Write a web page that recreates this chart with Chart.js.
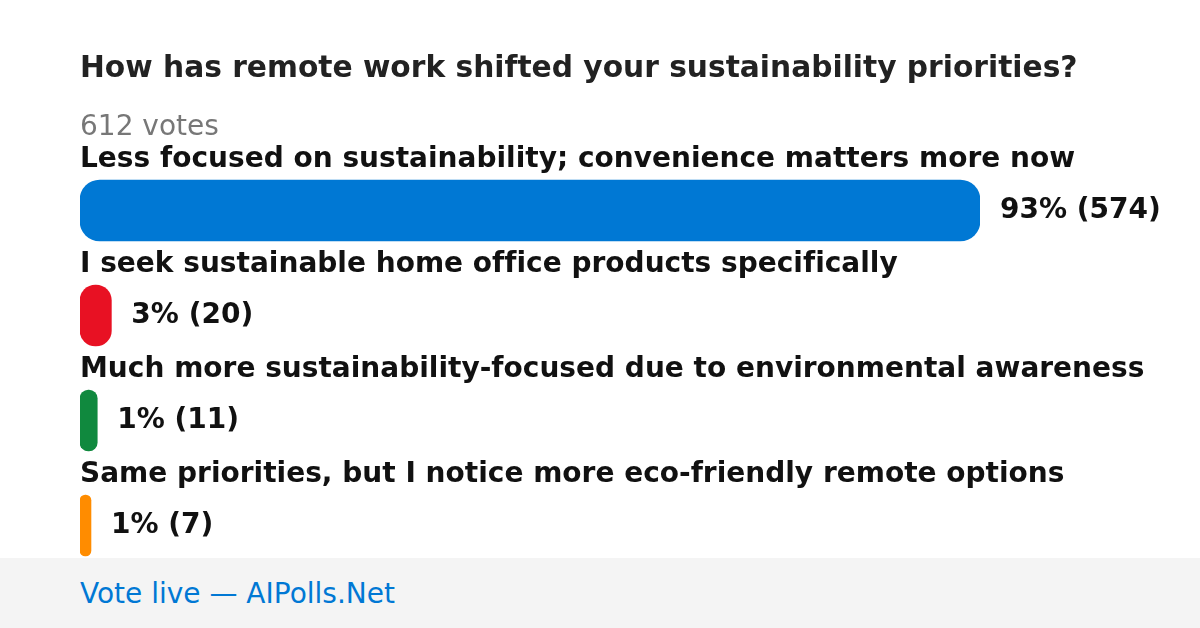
<!DOCTYPE html>
<html>
<head>
<meta charset="utf-8">
<script src="https://cdn.jsdelivr.net/npm/chart.js@4"></script>
<style>
  body { margin: 0; background: #fff; font-family: "DejaVu Sans", sans-serif; font-variant-ligatures: none; }
  #wrap { position: relative; width: 1200px; height: 628px; overflow: hidden; }
  #chart { position: absolute; left: 0; top: 0; }
  .title { position: absolute; left: 80px; top: 48px; font-size: 29.7px; font-weight: bold; color: #222; line-height: 38px; white-space: nowrap; }
  .votes { position: absolute; left: 80px; top: 108px; font-size: 28px; color: #777; line-height: 36px; }
  .footer { position: absolute; left: 0; top: 558px; width: 1200px; height: 70px; background: #f4f4f4; }
  .footer span { position: absolute; left: 80px; top: 18px; font-size: 28px; color: #0078d4; line-height: 36px; }
</style>
</head>
<body>
<div id="wrap">
  <canvas id="chart" width="1200" height="628"></canvas>
  <div class="title">How has remote work shifted your sustainability priorities?</div>
  <div class="votes">612 votes</div>
  <div class="footer"><span>Vote live — AIPolls.Net</span></div>
</div>
<script>
const categories = [
  "Less focused on sustainability; convenience matters more now",
  "I seek sustainable home office products specifically",
  "Much more sustainability-focused due to environmental awareness",
  "Same priorities, but I notice more eco-friendly remote options",
];
const votes = [574, 20, 11, 7];
const percents = [93, 3, 1, 1];
const colors = ["#0078d4", "#e81123", "#10893e", "#ff8c00"];

// draws option text above each bar and the result to the right
const barLabels = {
  id: "barLabels",
  afterDatasetsDraw(chart) {
    const ctx = chart.ctx;
    const meta = chart.getDatasetMeta(0);
    ctx.save();
    ctx.textBaseline = "middle";
    ctx.textAlign = "left";
    ctx.fillStyle = "#111";
    ctx.font = "bold 28px 'DejaVu Sans'";
    ctx.letterSpacing = "0.01px"; // stops the fi ligature
    meta.data.forEach((bar, i) => {
      ctx.fillText(categories[i], chart.chartArea.left, bar.y - 51);
      ctx.fillText(percents[i] + "% (" + votes[i] + ")", bar.x + 20, bar.y);
    });
    ctx.restore();
  },
};

const ctx = document.getElementById("chart").getContext("2d");
new Chart(ctx, {
  type: "bar",
  data: {
    labels: categories,
    datasets: [
      {
        data: votes,
        backgroundColor: colors,
        borderRadius: 20,
        borderSkipped: false,
        barThickness: 61,
      },
    ],
  },
  options: {
    indexAxis: "y",
    responsive: false,
    animation: false,
    layout: { padding: { left: 80, right: 220, top: 158, bottom: 50 } },
    scales: {
      x: { display: false, min: 0, max: 574 },
      y: { display: false },
    },
    plugins: {
      legend: { display: false },
      tooltip: { enabled: false },
    },
  },
  plugins: [barLabels],
});
</script>
</body>
</html>
